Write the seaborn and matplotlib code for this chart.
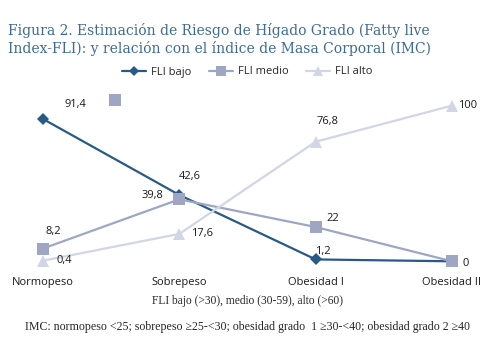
import numpy as np
import pandas as pd
import matplotlib
matplotlib.use('Agg')
import matplotlib.pyplot as plt
import seaborn as sns

# data
categorias = ['Normopeso', 'Sobrepeso', 'Obesidad I', 'Obesidad II']
fli_bajo = [91.4, 42.6, 1.2, 0]
fli_medio = [8.2, 39.8, 22, 0]
fli_alto = [0.4, 17.6, 76.8, 100]
series = ['FLI bajo', 'FLI medio', 'FLI alto']
# stray square marker left over in the original (x in category units)
suelto_x = [0.525]
suelto_y = [103.6]

df = pd.DataFrame({
    'cat': categorias * 3,
    'pos': list(range(4)) * 3,
    'valor': fli_bajo + fli_medio + fli_alto,
    'serie': [s for s in series for _ in range(4)],
})

colores = {'FLI bajo': '#285a86', 'FLI medio': '#9ea6c4', 'FLI alto': '#d1d5e6'}
marcadores = {'FLI bajo': 'D', 'FLI medio': 's', 'FLI alto': '^'}
tam = {'FLI bajo': 6, 'FLI medio': 8, 'FLI alto': 8}

sns.set_style('white')
plt.rcParams['font.family'] = ['Open Sans', 'DejaVu Sans']

fig = plt.figure(figsize=(4.94, 3.6), dpi=100)
ax = fig.add_axes([43 / 494, 98.7 / 360, 409 / 494, 155.7 / 360])

for k, s in enumerate(series):
    d = df[df.serie == s]
    sns.lineplot(data=d, x='pos', y='valor', ax=ax, color=colores[s],
                 marker=marcadores[s], markersize=tam[s], markeredgewidth=0,
                 linewidth=1.6, label=s, clip_on=False, zorder=3 + k)

ax.scatter(suelto_x, suelto_y, marker='s', s=64, color=colores['FLI medio'],
           linewidths=0, clip_on=False, zorder=3)

# label offsets in pixels (dx, dy)
offs = {
    'FLI bajo': [(32, 14), (10, 18), (7, 8), None],
    'FLI medio': [(10, 17), (-27, 4), (17, 9), (14, -2)],
    'FLI alto': [(21, 0), (23, 0), (12, 20), (16, 0)],
}
for s, vals in zip(series, [fli_bajo, fli_medio, fli_alto]):
    for i, v in enumerate(vals):
        o = offs[s][i]
        if o is None:
            continue
        txt = f'{v:g}'.replace('.', ',')
        ax.annotate(txt, (i, v), xytext=o, textcoords='offset pixels',
                    ha='center', va='center', fontsize=8, color='#1a1a1a',
                    zorder=10)

ax.set_xlim(0, 3)
ax.set_ylim(0, 100)
ax.set_xticks(range(4))
ax.set_xticklabels(categorias, fontsize=8, color='#1a1a1a')
ax.tick_params(axis='x', length=0, pad=11)
ax.set_yticks([])
ax.set_xlabel('')
ax.set_ylabel('')
for sp in ax.spines.values():
    sp.set_visible(False)

h, l = ax.get_legend_handles_labels()
ax.get_legend().remove()
fig.legend(h, l, loc='center',
           bbox_to_anchor=(0.5, 1 - 72 / 360), ncol=3, frameon=False,
           fontsize=8, handlelength=2.2, columnspacing=1.6, handletextpad=0.4,
           markerscale=0.85)

titulo = ['Figura 2. Estimación de Riesgo de Hígado Grado (Fatty live',
          'Index-FLI): y relación con el índice de Masa Corporal (IMC)']
for t, y in zip(titulo, [30, 48]):
    fig.text(8 / 494, 1 - y / 360, t, family='DejaVu Serif', fontsize=10,
             color='#3e6b93', va='center')
fig.text(0.5, 1 - 301 / 360, 'FLI bajo (>30), medio (30-59), alto (>60)',
         family='Liberation Serif', fontsize=8.3, ha='center', va='center')
fig.text(0.5, 1 - 327 / 360,
         'IMC: normopeso <25; sobrepeso ≥25-<30; obesidad grado  1 ≥30-<40; obesidad grado 2 ≥40',
         family='Liberation Serif', fontsize=8.6, ha='center', va='center')

fig.savefig('out.png', dpi=100)
